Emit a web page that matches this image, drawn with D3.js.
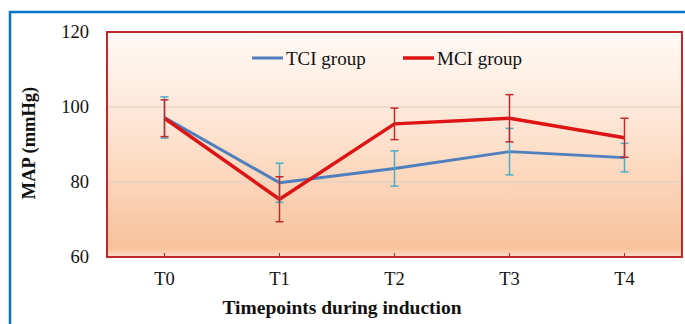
<!DOCTYPE html>
<html>
<head>
<meta charset="utf-8">
<script src="https://cdn.jsdelivr.net/npm/d3@7"></script>
<style>
  html, body { margin: 0; padding: 0; background: #fff; }
  svg { display: block; }
  text { font-family: "Liberation Serif", "Times New Roman", serif; fill: #111; }
</style>
</head>
<body>
<svg id="chart"></svg>
<script>
// timepoints and MAP (mmHg) mean / sd per group
const timepoints = ['T0', 'T1', 'T2', 'T3', 'T4']
const tciMean = [97.2, 79.8, 83.6, 88.1, 86.5]
const tciSd   = [5.5, 5.2, 4.7, 6.2, 3.8]
const mciMean = [97.0, 75.4, 95.5, 97.0, 91.8]
const mciSd   = [4.9, 6.0, 4.2, 6.3, 5.2]
const yTicks = [60, 80, 100, 120]

const width = 685, height = 324
const margin = { top: 32, right: 3, bottom: 67, left: 107 }
const serif = '"Liberation Serif", "Times New Roman", serif'

let svg = d3.select('#chart')
    .attr('width', width)
    .attr('height', height)

// outer frame (blue)
svg.append('rect')
    .attr('x', 10).attr('y', 12)
    .attr('width', width + 10).attr('height', height + 10)
    .attr('fill', 'none')
    .attr('stroke', '#0a72c8')
    .attr('stroke-width', 2.5)

let defs = svg.append('defs')
let grad = defs.append('linearGradient')
    .attr('id', 'bg')
    .attr('x1', 0).attr('y1', 0).attr('x2', 0).attr('y2', 1)
grad.append('stop').attr('offset', '0%').attr('stop-color', '#fffaf6')
grad.append('stop').attr('offset', '45%').attr('stop-color', '#fde3d0')
grad.append('stop').attr('offset', '96%').attr('stop-color', '#f8c29c')
grad.append('stop').attr('offset', '100%').attr('stop-color', '#fbdcc8')

let x = d3.scaleBand()
    .domain(timepoints)
    .range([margin.left, width - margin.right])
    .padding(0)

let y = d3.scaleLinear()
    .domain([60, 120])
    .range([height - margin.bottom, margin.top])

const cx = d => x(d) + x.bandwidth() / 2

// plot area
svg.append('rect')
    .attr('x', margin.left).attr('y', margin.top)
    .attr('width', width - margin.right - margin.left)
    .attr('height', y(60) - y(120))
    .attr('fill', 'url(#bg)')

// gridlines
svg.append('g')
    .selectAll('line')
    .data([80, 100])
    .enter().append('line')
    .attr('x1', margin.left).attr('x2', width - margin.right)
    .attr('y1', d => y(d)).attr('y2', d => y(d))
    .attr('stroke', '#dccdc4')
    .attr('stroke-width', 1)

// y axis labels
let yAxis = svg.append('g')
    .attr('transform', 'translate(' + (margin.left - 18) + ',0)')
    .call(d3.axisLeft(y).tickValues(yTicks).tickSize(0).tickPadding(0))
yAxis.attr('font-family', serif)
yAxis.select('.domain').remove()
yAxis.selectAll('text')
    .style('font-family', serif)
    .style('font-size', '18.5px')
    .attr('fill', '#111')

// x axis
let xAxis = svg.append('g')
    .attr('transform', 'translate(0,' + y(60) + ')')
    .call(d3.axisBottom(x).tickSize(-4).tickPadding(15))
xAxis.attr('font-family', serif)
xAxis.select('.domain').remove()
xAxis.selectAll('.tick line').attr('stroke', '#c0282d')
xAxis.selectAll('text')
    .style('font-family', serif)
    .style('font-size', '18.5px')
    .attr('fill', '#111')

// plot border
svg.append('rect')
    .attr('x', margin.left).attr('y', margin.top)
    .attr('width', width - margin.right - margin.left)
    .attr('height', y(60) - y(120))
    .attr('fill', 'none')
    .attr('stroke', '#c0282d')
    .attr('stroke-width', 2)

const series = [
    { name: 'TCI group', mean: tciMean, sd: tciSd, line: '#4f7fbd', err: '#4bacc6', w: 3 },
    { name: 'MCI group', mean: mciMean, sd: mciSd, line: '#de1414', err: '#c0282d', w: 3.5 }
]

let line = d3.line()
    .x((d, i) => cx(timepoints[i]))
    .y(d => y(d))

series.forEach(s => {
    svg.append('path')
        .datum(s.mean)
        .attr('d', line)
        .attr('fill', 'none')
        .attr('stroke', s.line)
        .attr('stroke-width', s.w)
        .attr('stroke-linejoin', 'round')
})

// error bars drawn on top
series.forEach(s => {
    let g = svg.append('g')
    s.mean.forEach((m, i) => {
        let px = cx(timepoints[i])
        let top = y(m + s.sd[i]), bot = y(m - s.sd[i])
        g.append('line')
            .attr('x1', px).attr('x2', px)
            .attr('y1', top).attr('y2', bot)
            .attr('stroke', s.err).attr('stroke-width', 1.5)
        ;[top, bot].forEach(yy => {
            g.append('line')
                .attr('x1', px - 4).attr('x2', px + 4)
                .attr('y1', yy).attr('y2', yy)
                .attr('stroke', s.err).attr('stroke-width', 1.5)
        })
    })
})

// legend
const legendX = [252, 403]
series.forEach((s, i) => {
    svg.append('line')
        .attr('x1', legendX[i]).attr('x2', legendX[i] + 31)
        .attr('y1', 58).attr('y2', 58)
        .attr('stroke', s.line)
        .attr('stroke-width', s.w)
    svg.append('text')
        .attr('x', legendX[i] + 34)
        .attr('y', 58)
        .attr('dy', '0.35em')
        .style('font-family', serif)
        .style('font-size', '19px')
        .text(s.name)
})

// axis titles
svg.append('text')
    .attr('x', 342)
    .attr('y', 307)
    .attr('dy', '0.35em')
    .attr('text-anchor', 'middle')
    .style('font-family', serif)
    .style('font-size', '19.5px')
    .style('font-weight', 'bold')
    .text('Timepoints during induction')

svg.append('text')
    .attr('transform', 'translate(29,143) rotate(-90)')
    .attr('dy', '0.35em')
    .attr('text-anchor', 'middle')
    .style('font-family', serif)
    .style('font-size', '18.5px')
    .style('font-weight', 'bold')
    .text('MAP (mmHg)')
</script>
</body>
</html>
